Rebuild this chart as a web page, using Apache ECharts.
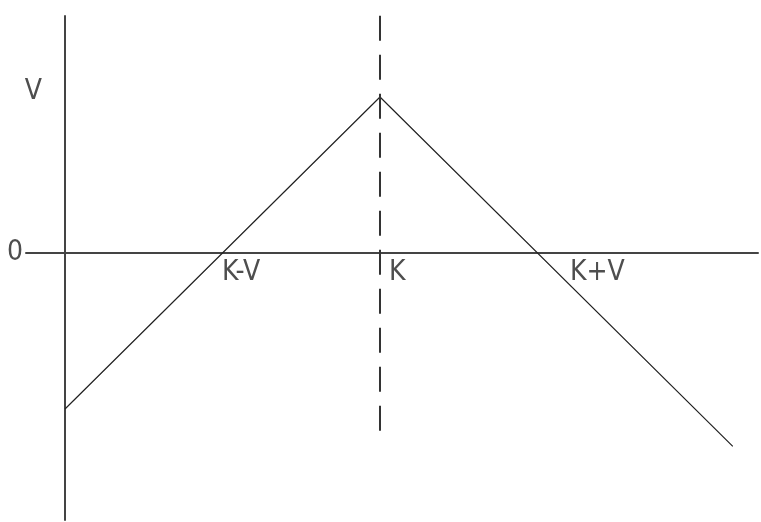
<!DOCTYPE html>
<html>
<head>
<meta charset="utf-8">
<script src="https://cdn.jsdelivr.net/npm/echarts@6/dist/echarts.min.js"></script>
<style>
  html, body { margin: 0; padding: 0; background: #fff; }
  #chart { width: 761px; height: 522px; }
</style>
</head>
<body>
<div id="chart"></div>
<script>
// payoff: V - |x - K| with K = 2, V = 1
const payoffX = [0, 2, 4.24]
const payoffY = [-1, 1, -1.24]

// dashed strike line at x = K
const strikeX = [2, 2]
const strikeY = [1.52, -1.17]

// annotation texts and their anchor points (data units)
const labelText = ['0', 'V', 'K-V', 'K', 'K+V']
const labelX = [-0.267, -0.146, 0.997, 2.057, 3.206]
const labelY = [0, 1.032, -0.128, -0.128, -0.128]
const labelAlign = ['right', 'right', 'left', 'left', 'left']

const chart = echarts.init(document.getElementById('chart'), null, { renderer: 'canvas' })

const ink = '#222'
const font = '"Liberation Sans Narrow", "DejaVu Sans Condensed", sans-serif'

chart.setOption({
  animation: false,
  grid: { left: 26, right: 3, top: 16, bottom: 2, containLabel: false },
  xAxis: {
    type: 'value',
    min: -0.2476,
    max: 4.4,
    axisLine: { show: true, onZero: true, lineStyle: { color: '#444', width: 2 } },
    axisTick: { show: false },
    axisLabel: { show: false },
    splitLine: { show: false },
  },
  yAxis: {
    type: 'value',
    min: -1.7115,
    max: 1.519,
    axisLine: { show: true, onZero: true, lineStyle: { color: '#444', width: 2 } },
    axisTick: { show: false },
    axisLabel: { show: false },
    splitLine: { show: false },
  },
  series: [
    {
      type: 'line',
      symbol: 'none',
      silent: true,
      lineStyle: { color: ink, width: 1.2 },
      data: payoffX.map((x, i) => [x, payoffY[i]]),
    },
    {
      type: 'line',
      symbol: 'none',
      silent: true,
      lineStyle: { color: '#333', width: 2, type: [25, 14] },
      data: strikeX.map((x, i) => [x, strikeY[i]]),
    },
    {
      type: 'scatter',
      clip: false,
      silent: true,
      symbolSize: 1,
      itemStyle: { color: 'transparent' },
      data: labelText.map((t, i) => ({
        value: [labelX[i], labelY[i]],
        label: {
          show: true,
          position: 'inside',
          formatter: t,
          align: labelAlign[i],
          verticalAlign: 'middle',
          color: ink,
          fontFamily: font,
          fontSize: 28,
        },
      })),
    },
  ],
})
</script>
</body>
</html>
